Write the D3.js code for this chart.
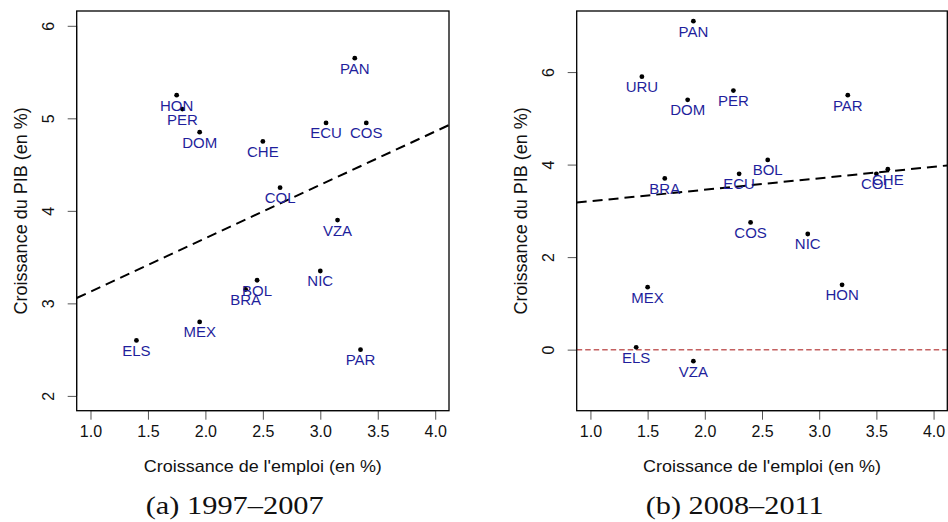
<!DOCTYPE html>
<html>
<head>
<meta charset="utf-8">
<script src="https://cdn.jsdelivr.net/npm/d3@7"></script>
<style>
  html, body { margin: 0; padding: 0; background: #fff; }
  svg { display: block; }
</style>
</head>
<body>
<div id="chart"></div>
<script>
// ---------- Data ----------
// Panel (a) 1997–2007
const countriesA = ["PAN","HON","PER","DOM","CHE","ECU","COS","COL","VZA","NIC","BOL","BRA","MEX","ELS","PAR"];
const emploiA    = [3.3, 1.75, 1.8, 1.95, 2.5, 3.05, 3.4, 2.65, 3.15, 3.0, 2.45, 2.35, 1.95, 1.4, 3.35];
const pibA       = [5.65, 5.25, 5.1, 4.85, 4.75, 4.95, 4.95, 4.25, 3.9, 3.35, 3.25, 3.15, 2.8, 2.6, 2.5];
const fitA       = [2.55, 0.577];   // intercept, slope of dashed line

// Panel (b) 2008–2011
const countriesB = ["PAN","URU","PER","DOM","PAR","BOL","ECU","BRA","COL","CHE","COS","NIC","MEX","HON","ELS","VZA"];
const emploiB    = [1.9, 1.45, 2.25, 1.85, 3.25, 2.55, 2.3, 1.65, 3.5, 3.6, 2.4, 2.9, 1.5, 3.2, 1.4, 1.9];
const pibB       = [7.1, 5.9, 5.6, 5.4, 5.5, 4.1, 3.8, 3.7, 3.8, 3.9, 2.75, 2.5, 1.35, 1.4, 0.05, -0.25];
const fitB       = [2.96, 0.248];
const refLineB   = 0;

const xTicks  = [1.0, 1.5, 2.0, 2.5, 3.0, 3.5, 4.0];
const yTicksA = [2, 3, 4, 5, 6];
const yTicksB = [0, 2, 4, 6];

const xTitle = "Croissance de l'emploi (en %)";
const yTitle = "Croissance du PIB (en %)";
const captionA = "(a) 1997–2007";
const captionB = "(b) 2008–2011";

// ---------- Drawing ----------
const W = 948, H = 522;
const SANS = "'Liberation Sans', Arial, Helvetica, sans-serif";
const SERIF = "'Liberation Serif', 'Times New Roman', serif";
const svg = d3.select("#chart").append("svg").attr("width", W).attr("height", H)
  .style("font-family", SANS);

// R-style 4% range extension
function ext(lo, hi) { const d = (hi - lo) * 0.04; return [lo - d, hi + d]; }

function panel(opts) {
  const { left, top, width, height, xlim, ylim, names, xs, ys, fit, yTicks, refLine, caption, id } = opts;
  const g = svg.append("g").attr("transform", `translate(${left},${top})`);
  const x = d3.scaleLinear().domain(ext(...xlim)).range([0, width]);
  const y = d3.scaleLinear().domain(ext(...ylim)).range([height, 0]);

  g.append("clipPath").attr("id", "clip" + id)
    .append("rect").attr("width", width).attr("height", height);

  // axes
  const xAxis = d3.axisBottom(x).tickValues(xTicks).tickFormat(d3.format(".1f")).tickSize(9).tickPadding(6);
  const gx = g.append("g").attr("transform", `translate(0,${height})`).call(xAxis);
  gx.select(".domain").attr("d", `M${x(xTicks[0])},0H${x(xTicks[xTicks.length-1])}`).attr("stroke", "#555");
  gx.selectAll(".tick line").attr("stroke", "#555");
  gx.selectAll(".tick text").attr("fill", "#111")
    .style("font-family", SANS).style("font-size", "16px");

  const yAxis = d3.axisLeft(y).tickValues(yTicks).tickFormat(d3.format("d")).tickSize(9).tickPadding(0);
  const gy = g.append("g").call(yAxis);
  gy.select(".domain").attr("d", `M0,${y(yTicks[0])}V${y(yTicks[yTicks.length-1])}`).attr("stroke", "#555");
  gy.selectAll(".tick line").attr("stroke", "#555");
  gy.selectAll(".tick text")
    .attr("fill", "#111")
    .style("font-family", SANS).style("font-size", "16px")
    .attr("text-anchor", "middle")
    .attr("dy", null)
    .attr("x", null)
    .attr("transform", "translate(-28,0) rotate(-90)")
    .attr("dominant-baseline", "central");

  // reference line
  const plot = g.append("g").attr("clip-path", `url(#clip${id})`);
  if (refLine !== undefined) {
    plot.append("line")
      .attr("x1", 0).attr("x2", width)
      .attr("y1", y(refLine)).attr("y2", y(refLine))
      .attr("stroke", "#c46060").attr("stroke-width", 1.5)
      .attr("stroke-dasharray", "5.5,3");
  }
  // fitted dashed line
  const [x0, x1] = x.domain();
  plot.append("line")
    .attr("x1", x(x0)).attr("y1", y(fit[0] + fit[1] * x0))
    .attr("x2", x(x1)).attr("y2", y(fit[0] + fit[1] * x1))
    .attr("stroke", "#000").attr("stroke-width", 2)
    .attr("stroke-dasharray", "10,6");

  // points
  const data = names.map((n, i) => ({ n, x: xs[i], y: ys[i] }));
  plot.selectAll("circle").data(data).enter().append("circle")
    .attr("cx", d => x(d.x)).attr("cy", d => y(d.y)).attr("r", 2.4).attr("fill", "#000");
  plot.selectAll("text.lab").data(data).enter().append("text")
    .attr("class", "lab")
    .attr("x", d => x(d.x)).attr("y", d => y(d.y) + 15.5)
    .attr("text-anchor", "middle")
    .style("font-size", "15px")
    .attr("fill", "#1f1f9c")
    .text(d => d.n);

  // box
  g.append("rect").attr("width", width).attr("height", height)
    .attr("fill", "none").attr("stroke", "#000").attr("stroke-width", 1.3);

  // titles
  g.append("text").attr("x", width / 2).attr("y", height + 61.5)
    .attr("text-anchor", "middle").style("font-size", "16.5px").attr("fill", "#111")
    .attr("textLength", 238).attr("lengthAdjust", "spacingAndGlyphs")
    .text(xTitle);
  g.append("text")
    .attr("transform", `translate(-56,${height / 2}) rotate(-90)`)
    .attr("text-anchor", "middle").attr("dominant-baseline", "central")
    .style("font-size", "18px").attr("fill", "#111").text(yTitle);

  // caption
  g.append("text").attr("x", 158).attr("y", height + 103)
    .attr("text-anchor", "middle")
    .style("font-family", SERIF).style("font-size", "25px")
    .attr("textLength", 178).attr("lengthAdjust", "spacingAndGlyphs")
    .attr("fill", "#111").text(caption);
}

panel({ id: "a", left: 76.7, top: 11, width: 372.3, height: 399.7,
  xlim: [1, 4], ylim: [2, 6], names: countriesA, xs: emploiA, ys: pibA,
  fit: fitA, yTicks: yTicksA, caption: captionA });

panel({ id: "b", left: 576.7, top: 11, width: 370.6, height: 399.7,
  xlim: [1, 4], ylim: [-1, 7], names: countriesB, xs: emploiB, ys: pibB,
  fit: fitB, yTicks: yTicksB, refLine: refLineB, caption: captionB });
</script>
</body>
</html>
